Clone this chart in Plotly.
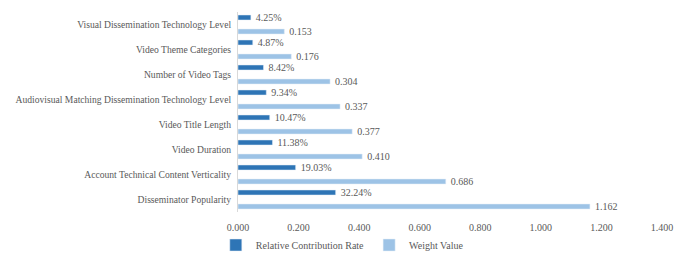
import plotly.graph_objects as go

categories = [
    "Visual Dissemination Technology Level",
    "Video Theme Categories",
    "Number of Video Tags",
    "Audiovisual Matching Dissemination Technology Level",
    "Video Title Length",
    "Video Duration",
    "Account Technical Content Verticality",
    "Disseminator Popularity",
]
relative_rate = [0.0425, 0.0487, 0.0842, 0.0934, 0.1047, 0.1138, 0.1903, 0.3224]
weight_value = [0.153, 0.176, 0.304, 0.337, 0.377, 0.410, 0.686, 1.162]
x_ticks = [0.0, 0.2, 0.4, 0.6, 0.8, 1.0, 1.2, 1.4]

font_fam = "Liberation Serif, DejaVu Serif, serif"
gray = "#595959"

fig = go.Figure()
fig.add_trace(go.Bar(
    y=categories, x=relative_rate, orientation="h",
    name="Relative Contribution Rate",
    marker_color="#2E75B6",
    width=0.2, offset=-0.38,
    text=["  " + f"{v*100:.2f}%" for v in relative_rate],
    textposition="outside", cliponaxis=False, constraintext="none",
    textfont=dict(family=font_fam, size=10, color=gray),
))
fig.add_trace(go.Bar(
    y=categories, x=weight_value, orientation="h",
    name="Weight Value",
    marker_color="#9DC3E6",
    width=0.2, offset=0.18,
    text=["  " + f"{v:.3f}" for v in weight_value],
    textposition="outside", cliponaxis=False, constraintext="none",
    textfont=dict(family=font_fam, size=10, color=gray),
))

# page body has an 8px margin, so the figure is sized/offset to fit the window
fig.update_layout(
    width=677, height=257,
    barmode="overlay",
    paper_bgcolor="white", plot_bgcolor="white",
    margin=dict(l=230, r=23, t=4, b=53, autoexpand=False),
    font=dict(family=font_fam, size=10, color=gray),
    showlegend=True,
    legend=dict(
        orientation="h",
        x=0.246, xanchor="center", y=-0.165, yanchor="middle",
        font=dict(family=font_fam, size=10, color=gray),
        itemwidth=30, tracegroupgap=0,
    ),
    xaxis=dict(
        range=[0, 1.4], tickvals=x_ticks, tickformat=".3f",
        showgrid=False, zeroline=False, showline=False,
        ticks="", ticklabelstandoff=8, automargin=False,
        tickfont=dict(size=10),
    ),
    yaxis=dict(
        autorange="reversed", showgrid=False, zeroline=False,
        showline=True, linecolor="#D9D9D9", linewidth=1,
        ticks="", ticklabelstandoff=4, automargin=False,
        tickfont=dict(size=9.6),
    ),
)

fig.write_html("out.html")
